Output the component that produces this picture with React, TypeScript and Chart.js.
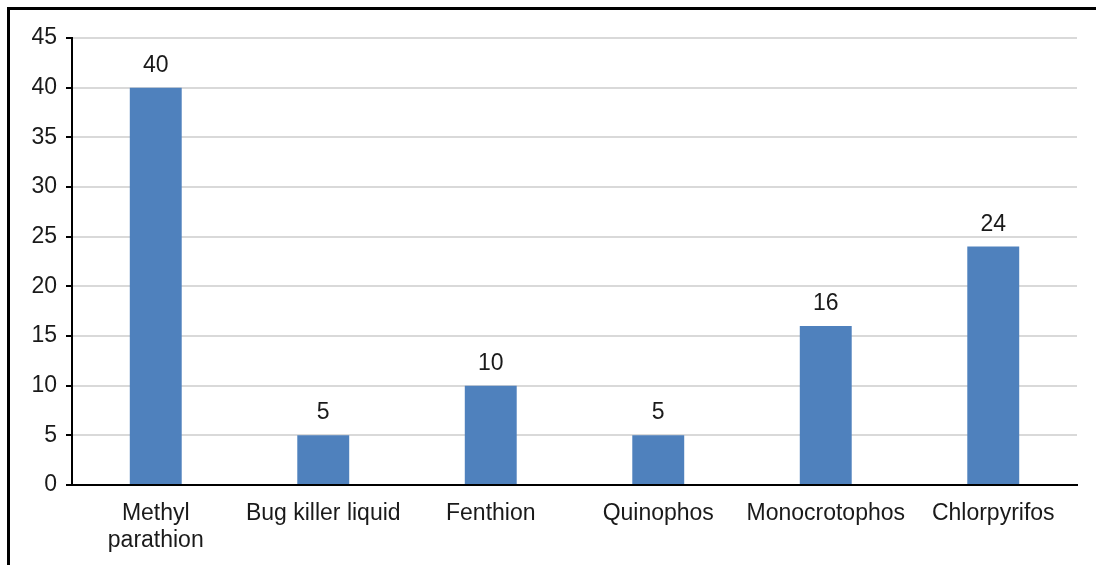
import React, { useEffect, useRef } from "react";
import { Chart, registerables } from "chart.js";

Chart.register(...registerables);

const categories: (string | string[])[] = [
  ["Methyl", "parathion"],
  "Bug killer liquid",
  "Fenthion",
  "Quinophos",
  "Monocrotophos",
  "Chlorpyrifos",
];
const values: number[] = [40, 5, 10, 5, 16, 24];
const yMin = 0;
const yMax = 45;
const yStep = 5;

const FONT = "'Liberation Sans', Arial, sans-serif";
const TEXT = "#1a1a1a";
const FS = 23;

const dataLabels = {
  id: "dataLabels",
  afterDatasetsDraw(chart: any) {
    const ctx = chart.ctx;
    const meta = chart.getDatasetMeta(0);
    ctx.save();
    ctx.font = `${FS}px ${FONT}`;
    ctx.fillStyle = TEXT;
    ctx.textAlign = "center";
    ctx.textBaseline = "alphabetic";
    meta.data.forEach((bar: any, i: number) => {
      ctx.fillText(String(values[i]), bar.x, bar.y - 16);
    });
    ctx.restore();
  },
};

export default function App() {
  const ref = useRef<HTMLCanvasElement | null>(null);
  useEffect(() => {
    if (!ref.current) return;
    const chart = new Chart(ref.current, {
      type: "bar",
      data: {
        labels: categories,
        datasets: [
          {
            data: values,
            backgroundColor: "#4f81bd",
            barPercentage: 0.31,
            categoryPercentage: 1,
          },
        ],
      },
      options: {
        animation: false,
        responsive: false,
        maintainAspectRatio: false,
        devicePixelRatio: 1,
        layout: { padding: { left: 20, right: 19, top: 38, bottom: 0 } },
        plugins: {
          legend: { display: false },
          tooltip: { enabled: false },
        },
        scales: {
          x: {
            grid: { display: false, drawTicks: false },
            border: { display: true, color: "#000", width: 2 },
            ticks: {
              color: TEXT,
              font: { family: FONT, size: FS, lineHeight: 1.17 },
              padding: 15,
              maxRotation: 0,
              autoSkip: false,
            },
            afterFit(scale: any) {
              scale.height = 80;
            },
          },
          y: {
            min: yMin,
            max: yMax,
            ticks: {
              stepSize: yStep,
              color: TEXT,
              font: { family: FONT, size: FS },
              padding: 9,
            },
            grid: {
              color: "#d9d9d9",
              lineWidth: 2,
              tickColor: "#000",
              tickLength: 6,
              tickWidth: 2,
            },
            border: { display: true, color: "#000", width: 2 },
            afterFit(scale: any) {
              scale.width = 52;
            },
          },
        },
      },
      plugins: [dataLabels],
    });
    return () => chart.destroy();
  }, []);

  return (
    <div>
      <div
        style={{
          position: "fixed",
          left: 7,
          top: 7,
          width: 1200,
          height: 700,
          borderTop: "3px solid #000",
          borderLeft: "3px solid #000",
          boxSizing: "border-box",
          pointerEvents: "none",
        }}
      />
      <canvas
        ref={ref}
        width={1096}
        height={565}
        style={{ position: "fixed", left: 0, top: 0, width: 1096, height: 565 }}
      />
    </div>
  );
}
